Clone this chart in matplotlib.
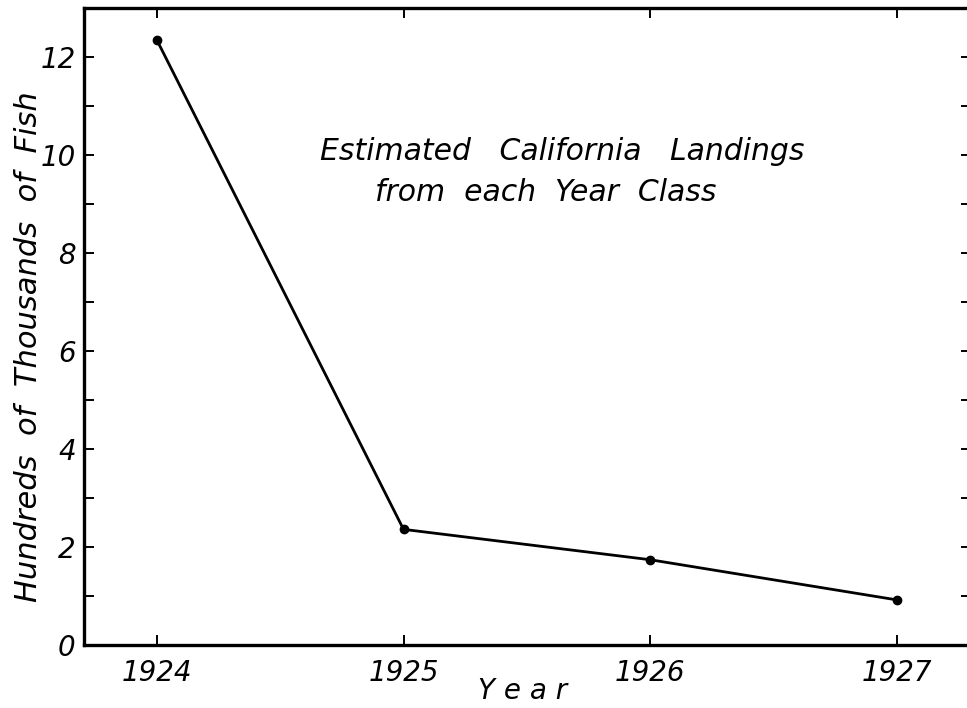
import matplotlib
matplotlib.use("Agg")
import matplotlib.pyplot as plt
from matplotlib.ticker import MultipleLocator, FuncFormatter

# data
years = [1924, 1925, 1926, 1927]
landings = [12.35, 2.36, 1.74, 0.92]  # hundreds of thousands of fish

title_lines = ["Estimated   California   Landings", "from  each  Year  Class"]

plt.rcParams['font.family'] = ['DejaVu Sans']
plt.rcParams['font.style'] = 'oblique'

fig = plt.figure(figsize=(9.67, 7.08), dpi=100)
ax = fig.add_axes([84 / 967, 1 - 645 / 708, 887 / 967, 637 / 708])

ax.plot(years, landings, color="black", lw=2.0, marker="o", ms=6,
        mfc="black", mec="black")

ax.set_xlim(1923.705, 1927.3)
ax.set_ylim(0, 13)

ax.set_xticks(years)
ax.set_xticklabels([str(y) for y in years])
ax.yaxis.set_major_locator(MultipleLocator(1))
ax.yaxis.set_major_formatter(FuncFormatter(lambda v, p: "%d" % v if int(v) % 2 == 0 and v < 13 else ""))

ax.tick_params(axis="both", direction="in", length=7, width=1.4, labelsize=20,
               top=True, right=True, color="black")
ax.tick_params(axis="x", pad=10)
ax.tick_params(axis="y", pad=6)

for s in ax.spines.values():
    s.set_linewidth(2.4)

ax.set_ylabel("Hundreds  of  Thousands  of  Fish", fontsize=22)
ax.yaxis.set_label_coords(-0.046, 0.468)
ax.set_xlabel("Y e a r", fontsize=20)
ax.xaxis.set_label_coords(0.494, -0.05)

ax.text(0.266, 0.774, title_lines[0], transform=ax.transAxes, fontsize=21.5,
        ha="left", va="center")
ax.text(0.328, 0.711, title_lines[1], transform=ax.transAxes, fontsize=21.5,
        ha="left", va="center")

fig.savefig("out.png", dpi=100)
